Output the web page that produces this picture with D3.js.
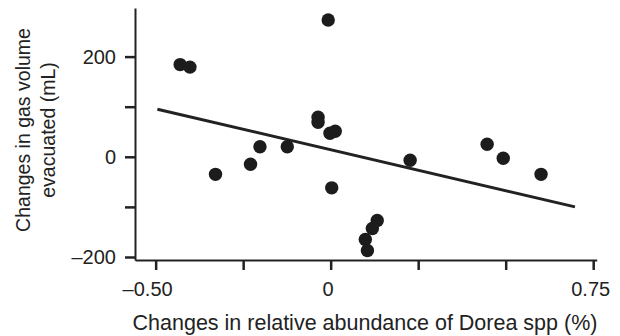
<!doctype html>
<html lang="en">
<head>
<meta charset="utf-8">
<script src="https://cdn.jsdelivr.net/npm/d3@7/dist/d3.min.js"></script>
<style>
  body { margin: 0; background: #fff; }
  svg text { font-family: "Liberation Sans", Arial, sans-serif; fill: #222; }
</style>
</head>
<body>
<div id="chart"></div>
<script>
// values
var doreaChange = [-0.430, -0.402, -0.329, -0.229, -0.202, -0.124, -0.036, -0.036, -0.002, 0.013,
                   -0.007, 0.003, 0.099, 0.105, 0.119, 0.133, 0.227, 0.447, 0.493, 0.601];
var gasChange   = [184, 179, -35, -15, 20, 20, 79, 69, 47, 51,
                   273, -62, -165, -187, -143, -127, -7, 25, -3, -35];

// fitted line end points
var fitX = [-0.495, 0.698];
var fitY = [95, -100];

var xTicks = [-0.5, -0.25, 0, 0.25, 0.5, 0.75];
var xTickLabels = ["\u20130.50", "", "0", "", "", "0.75"];
var yTicks = [-200, -100, 0, 100, 200];
var yTickLabels = ["\u2013200", "", "0", "", "200"];

var xTitle = "Changes in relative abundance of Dorea spp (%)";
var yTitle = ["Changes in gas volume", "evacuated (mL)"];

var width = 620, height = 336;
var ink = "#222";

var svg = d3.select("#chart").append("svg")
    .attr("width", width)
    .attr("height", height);

var x = d3.scaleLinear()
    .domain([-0.559, 0.76])
    .range([135, 596.7]);

var y = d3.scaleLinear()
    .domain([-206, 297])
    .range([260, 8]);

// x axis
var xAxis = svg.append("g")
    .attr("transform", "translate(0," + y.range()[0] + ")")
    .call(d3.axisBottom(x)
        .tickValues(xTicks)
        .tickFormat(function(d, i) { return xTickLabels[i]; })
        .tickSize(10)
        .tickSizeOuter(0)
        .tickPadding(12));

xAxis.select(".domain").attr("stroke", ink).attr("stroke-width", 2);
xAxis.selectAll(".tick line").attr("stroke", ink).attr("stroke-width", 2.5);
xAxis.selectAll(".tick text")
    .attr("font-size", "20px")
    .attr("fill", ink)
    .attr("dx", function(d, i) {
        return xTickLabels[i].charAt(0) == "\u2013" ? "-8.5" : "-3";
    });

// y axis
var yAxis = svg.append("g")
    .attr("transform", "translate(" + x.range()[0] + ",0)")
    .call(d3.axisLeft(y)
        .tickValues(yTicks)
        .tickFormat(function(d, i) { return yTickLabels[i]; })
        .tickSize(10)
        .tickSizeOuter(0)
        .tickPadding(9));

yAxis.select(".domain").attr("stroke", ink).attr("stroke-width", 2);
yAxis.selectAll(".tick line").attr("stroke", ink).attr("stroke-width", 2.5);
yAxis.selectAll(".tick text")
    .attr("font-size", "20px")
    .attr("fill", ink);

// regression line
svg.append("path")
    .datum(d3.zip(fitX, fitY))
    .attr("fill", "none")
    .attr("stroke", ink)
    .attr("stroke-width", 3)
    .attr("d", d3.line()
        .x(function(d) { return x(d[0]); })
        .y(function(d) { return y(d[1]); }));

// points
svg.append("g")
    .selectAll("circle")
    .data(d3.zip(doreaChange, gasChange))
    .join("circle")
    .attr("cx", function(d) { return x(d[0]); })
    .attr("cy", function(d) { return y(d[1]); })
    .attr("r", 6.7)
    .attr("fill", "#1c1c1c");

// titles
svg.append("text")
    .attr("x", 365)
    .attr("y", 330)
    .attr("text-anchor", "middle")
    .attr("font-size", "21.5px")
    .text(xTitle);

svg.selectAll(".ytitle")
    .data(yTitle)
    .join("text")
    .attr("class", "ytitle")
    .attr("text-anchor", "middle")
    .attr("font-size", "19.5px")
    .attr("transform", function(d, i) {
        return "translate(" + (30 + i * 25) + ",130) rotate(-90)";
    })
    .text(function(d) { return d; });
</script>
</body>
</html>
